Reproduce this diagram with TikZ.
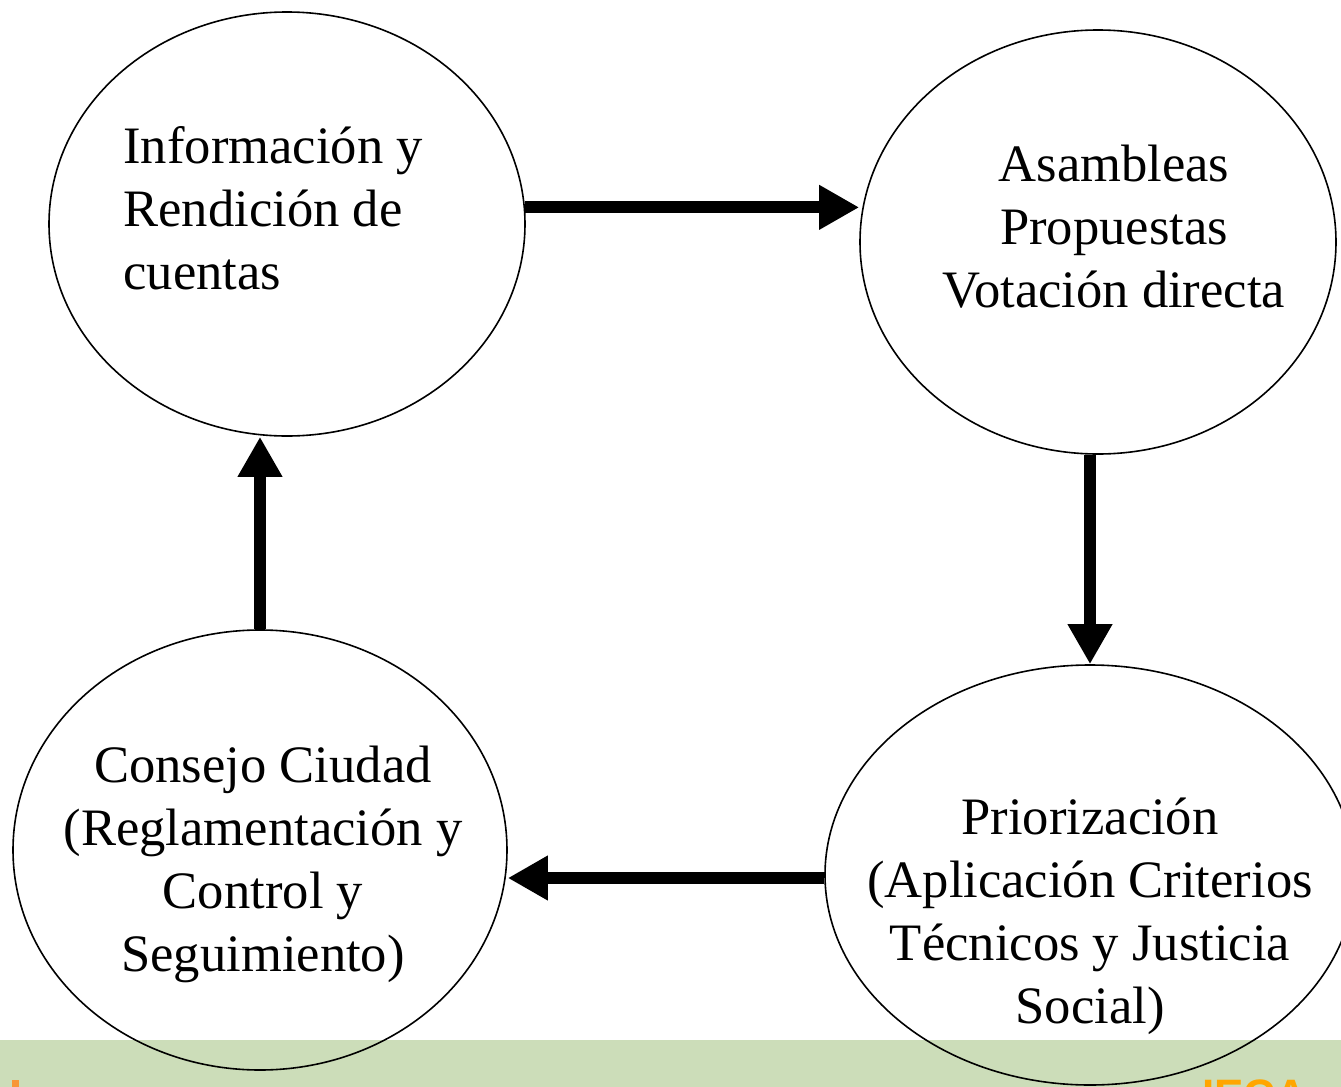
\documentclass[tikz,border=0pt]{standalone}
\usepackage{fontspec}
\setmainfont{Liberation Serif}
\setsansfont{Liberation Sans}
\usetikzlibrary{arrows.meta,shapes.geometric}
\definecolor{bandgreen}{RGB}{204,221,185}
\definecolor{logoorange}{RGB}{255,166,0}
\definecolor{dotorange}{RGB}{247,150,55}
\tikzset{
  stage/.style={draw=black,line width=0.8pt,ellipse,inner sep=0pt},
  stagetext/.style={font=\fontsize{26.3}{31.5}\selectfont,inner sep=0pt},
  flow/.style={line width=6pt,-{Triangle[length=20pt,width=21pt]}}
}
\begin{document}
\begin{tikzpicture}[x=0.5pt,y=-0.5pt]
\clip (0,0) rectangle (1341,1087);
\fill[white] (0,0) rectangle (1341,1087);
% band at the bottom
\fill[bandgreen] (0,1040) rectangle (1341,1087);
\fill[dotorange] (12,1080) rectangle (19,1087);
\node[anchor=base west,text=logoorange,font=\sffamily\bfseries\fontsize{22}{22}\selectfont,inner sep=0pt] (logo) at (1202,1110) {IECA};

% the four stages
\node[stage,minimum width=238pt,minimum height=212pt] (info) at (287,224) {};
\node[stage,minimum width=238pt,minimum height=212pt] (asam) at (1098,242) {};
\node[stage,minimum width=265pt,minimum height=210pt] (prio) at (1090,875) {};
\node[stage,minimum width=247pt,minimum height=220pt] (cons) at (260,850) {};

\node[stagetext,align=left,anchor=west] (infotext) at (123,208) {Información y\\Rendición de\\cuentas};
\node[stagetext,align=center] (asamtext) at (1114,227) {Asambleas\\Propuestas\\Votación directa};
\node[stagetext,align=center] (priotext) at (1090,916) {Priorización\\(Aplicación Criterios\\Técnicos y Justicia\\Social)};
\node[stagetext,align=center] (constext) at (263,864) {Consejo Ciudad\\(Reglamentación y\\Control y\\Seguimiento)};

% arrows between the stages
\draw[flow] (info.4.6) -- (info.4.6 -| asam.west);
\draw[flow] (asam.south -| prio.north) -- (prio.north);
\draw[flow] (prio.west |- 0,878) -- (cons.east |- 0,878);
\draw[flow] (cons.north) -- (cons.north |- info.south);
\end{tikzpicture}
\end{document}
